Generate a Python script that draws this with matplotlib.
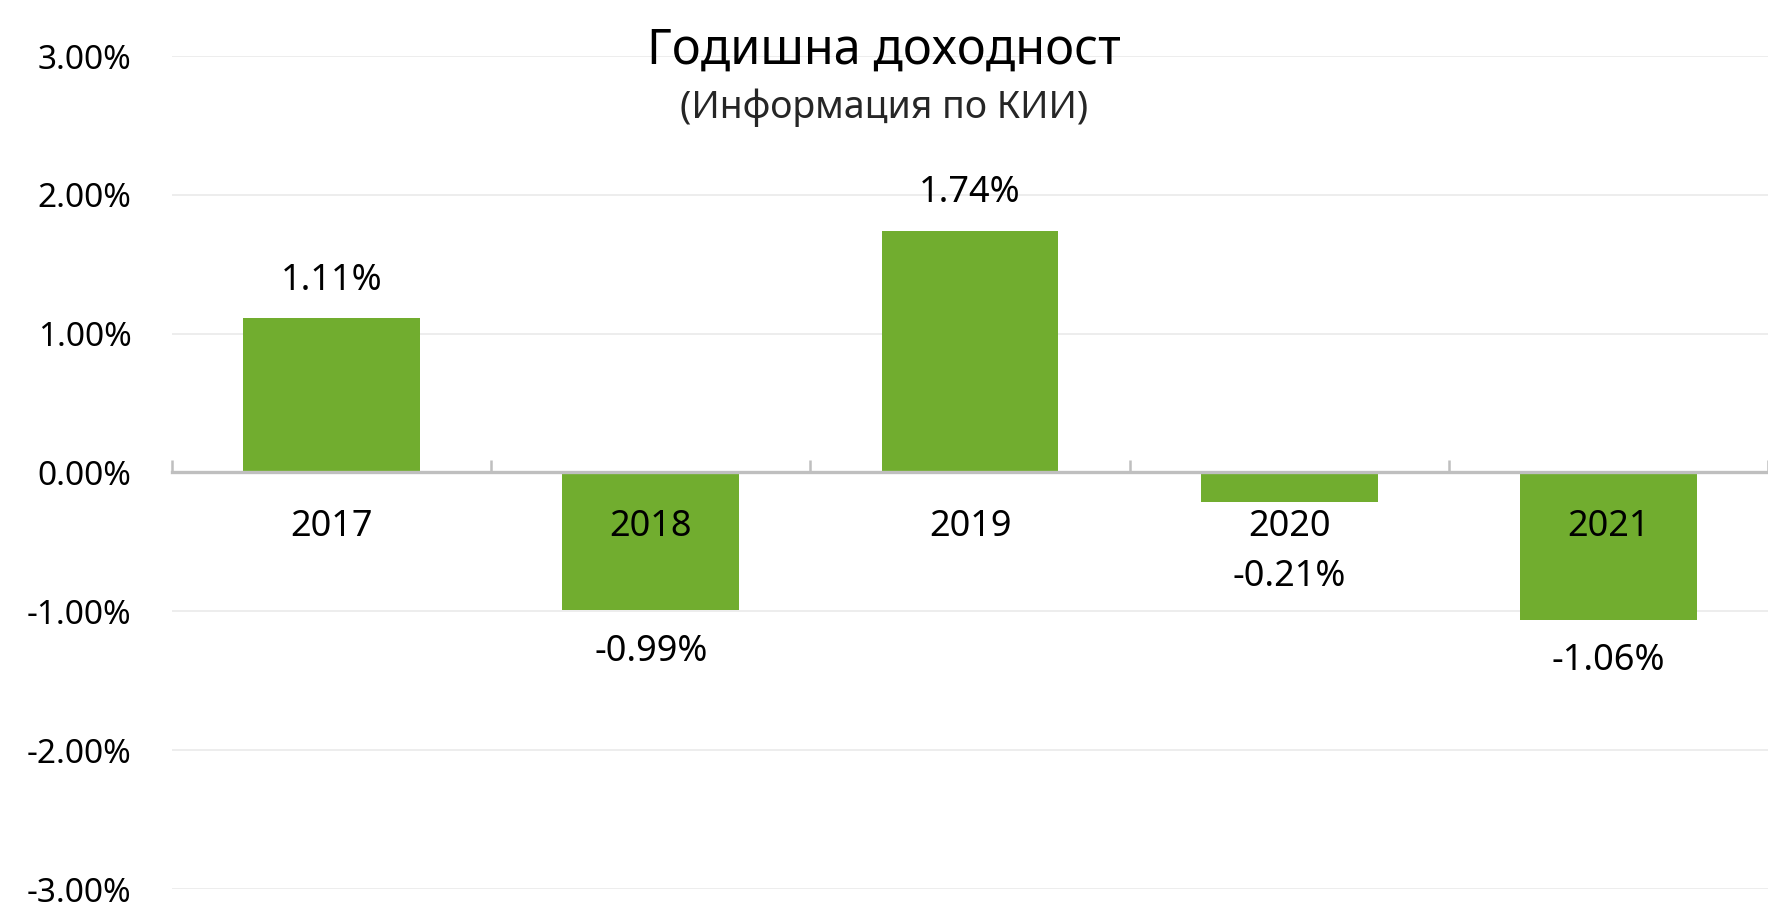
import matplotlib
matplotlib.use("Agg")
import matplotlib.pyplot as plt
from matplotlib.ticker import FuncFormatter, MultipleLocator

plt.rcParams['font.family'] = ['Noto Sans', 'DejaVu Sans']

# annual return data
years = ['2017', '2018', '2019', '2020', '2021']
returns = [1.11, -0.99, 1.74, -0.21, -1.06]   # percent

title = 'Годишна доходност'
subtitle = '(Информация по КИИ)'
bar_color = '#71AD2F'

fig = plt.figure(figsize=(17.68, 9.05), dpi=100)
# plot area runs past the right edge, like the original
ax = fig.add_axes([172 / 1768, 16 / 905, (1768 - 172) / 1768, 833 / 905])

x = list(range(len(years)))
ax.bar(x, returns, width=0.554, color=bar_color, zorder=2)

ax.set_ylim(-3, 3)
ax.set_xlim(-0.5, 4.42)
ax.yaxis.set_major_locator(MultipleLocator(1))
ax.yaxis.set_major_formatter(FuncFormatter(lambda v, p: '%.2f%%' % v))
ax.set_axisbelow(True)
ax.grid(axis='y', color='#ececec', linewidth=1.3)

for s in ['top', 'right', 'left']:
    ax.spines[s].set_visible(False)
ax.spines['bottom'].set_position(('data', 0))
ax.spines['bottom'].set_color('#bfbfbf')
ax.spines['bottom'].set_linewidth(2.4)
ax.spines['bottom'].set_zorder(3)

# category boundary ticks pointing up
ax.set_xticks([i - 0.5 for i in range(len(years) + 1)])
ax.set_xticklabels([])
ax.tick_params(axis='x', direction='in', length=9, width=1.8, color='#bfbfbf')
ax.tick_params(axis='y', length=0, pad=29, labelsize=24)
for lbl in ax.get_yticklabels():
    lbl.set_va('center_baseline')

# year labels on top of the bars
for i, yr in enumerate(years):
    ax.annotate(yr, (i, 0), xytext=(0, -39.5), textcoords='offset points',
                ha='center', va='center', fontsize=26, zorder=5)

# value labels
for i, v in enumerate(returns):
    if v >= 0:
        ax.annotate('%.2f%%' % v, (i, v), xytext=(0, 27), textcoords='offset points',
                    ha='center', va='center', fontsize=26, zorder=5)
    else:
        anchor = min(v, -0.45)
        ax.annotate('%.2f%%' % v, (i, anchor), xytext=(0, -30), textcoords='offset points',
                    ha='center', va='center', fontsize=26, zorder=5)

fig.text(0.5, 1 - 64 / 905, title, ha='center', va='baseline', fontsize=35)
fig.text(0.5, 1 - 118 / 905, subtitle, ha='center', va='baseline', fontsize=27,
         fontweight='light', color='#262626')

fig.savefig('out.png', dpi=100)
